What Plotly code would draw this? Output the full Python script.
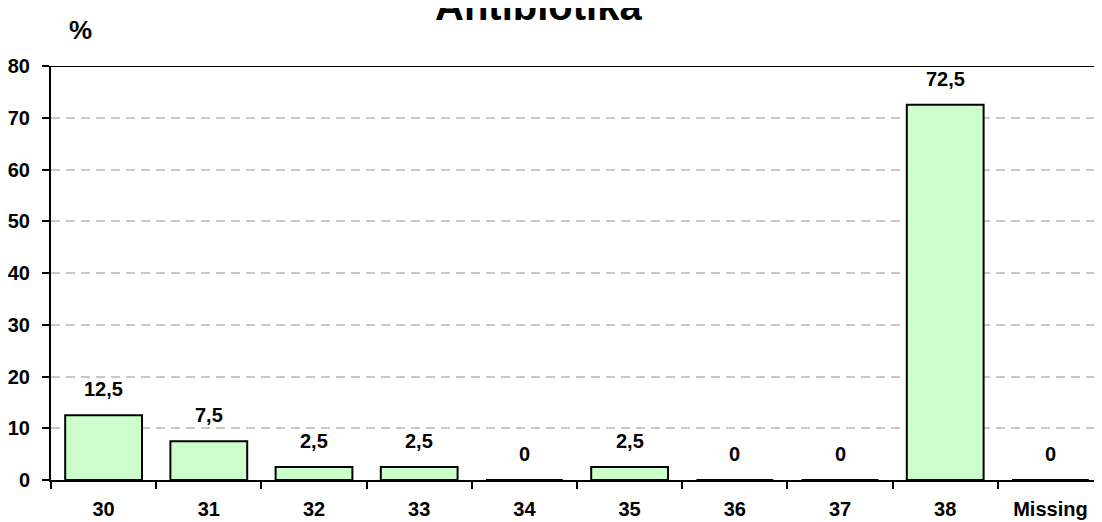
import plotly.graph_objects as go

categories = ['30', '31', '32', '33', '34', '35', '36', '37', '38', 'Missing']
percent = [12.5, 7.5, 2.5, 2.5, 0, 2.5, 0, 0, 72.5, 0]
y_ticks = [0, 10, 20, 30, 40, 50, 60, 70, 80]

FONT = 'Liberation Sans, Arial, sans-serif'

fig = go.Figure(go.Bar(
    x=categories,
    y=percent,
    width=0.73,
    marker=dict(color='#CCFFCC', line=dict(color='black', width=2)),
    hoverinfo='x+y',
))

# value labels above the bars, comma as decimal separator
# (x given as category index: numeric-looking names would be read as indices)
for i, val in enumerate(percent):
    label = ('%g' % val).replace('.', ',')
    fig.add_annotation(x=i, y=val, text=label, showarrow=False,
                       yanchor='middle', yshift=26,
                       font=dict(family=FONT, size=20, color='black', weight='bold'))

fig.update_xaxes(
    type='category',
    range=[-0.5, len(categories) - 0.5],
    showline=True, linecolor='black', linewidth=2,
    ticks='outside', ticklen=7, tickwidth=2, tickcolor='black',
    tickson='boundaries',
    ticklabelstandoff=10,
    tickangle=0,
    automargin=False,
    showgrid=False,
    tickfont=dict(family=FONT, size=20, color='black', weight='bold'),
)
fig.update_yaxes(
    range=[0, 80],
    tickvals=y_ticks,
    showline=True, linecolor='black', linewidth=2,
    ticks='outside', ticklen=7, tickwidth=2, tickcolor='black',
    ticklabelstandoff=8,
    automargin=False,
    showgrid=True, gridcolor='#C8C8C8', gridwidth=2, griddash='9px,6px',
    zeroline=False,
    tickfont=dict(family=FONT, size=20, color='black', weight='bold'),
)

# solid line along the top of the plot area
fig.add_shape(type='line', xref='paper', yref='y', x0=0, x1=1, y0=80, y1=80,
              line=dict(color='black', width=2))

fig.add_annotation(text='Antibiotika', xref='paper', yref='paper',
                   x=0.4634, y=1.086, xanchor='center', yanchor='bottom',
                   showarrow=False,
                   font=dict(family=FONT, size=40, color='black', weight='bold'))
fig.add_annotation(text='%', xref='paper', yref='paper',
                   x=0.0276, y=1.087, xanchor='center', yanchor='middle',
                   showarrow=False,
                   font=dict(family=FONT, size=26, color='black', weight='bold'))

# page body has an 8px margin, so the margins are shifted to compensate
fig.update_layout(
    width=1102, height=522,
    margin=dict(l=43, r=7, t=58, b=50),
    plot_bgcolor='white', paper_bgcolor='white',
    showlegend=False,
)

fig.write_html('out.html')
